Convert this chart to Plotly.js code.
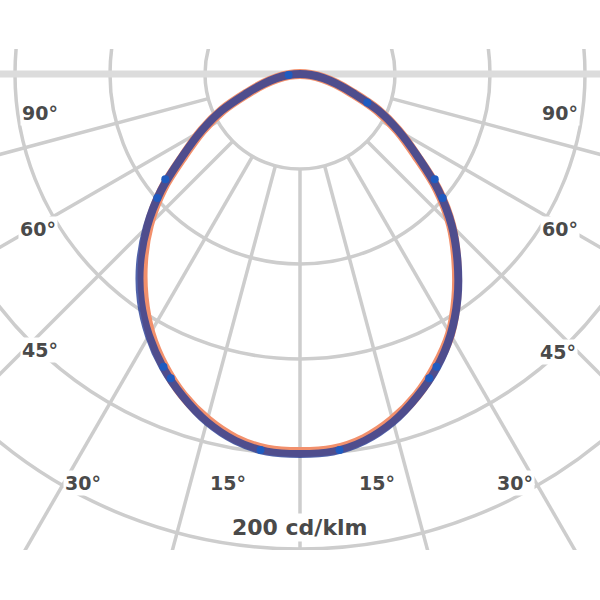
<!DOCTYPE html>
<html><head><meta charset="utf-8">
<script src="https://cdn.plot.ly/plotly-3.0.1.min.js"></script>
<style>html,body{margin:0;padding:0;background:#fff}#chart{width:600px;height:600px}</style>
</head><body><div id="chart"></div>
<script>
// ---- data (luminous intensity, cd/klm, vs. gamma angle from nadir) ----
const gamma = [0,5,10,15,20,25,30,35,40,45,50,55,60,65,70,75,80,85,90];
const c90  = [400,399,392,379,361,341,317,289,258,226,190,151,120,91,60,40,25,12,0];   // blue, right half
const c270 = [400,399,392,379,361,341,318,292,262,228,191,151,120,91,60,40,25,12,0];   // blue, left half
const c0   = [398,397,390,377,360,339,316,287,256,225,189,149,119,90,59,39,24,11,0];   // orange, right half
const c180 = [398,397,390,377,360,339,315,287,257,225,189,149,119,90,59,39,24,11,0];   // orange, left half
const markGamma = [-85,-52,-49,-25,-23,-6,6,23,25,49,52,67];
const markI     = [12,180,199,340,348,398,398,348,340,199,180,77];
const ringValues  = [100,200,300,400,500,600];
const spokeAngles = [-75,-60,-45,-30,-15,0,15,30,45,60,75];
const angleLabels = ['90°','60°','45°','30°','15°'];
const unitLabel = '200 cd/klm';

// ---- geometry / layout constants ----
const S = 0.95, CX = 300, CY = 74, TOP = 49, BOTTOM = 550, W = 600, H = 600;
const rad = d => d * Math.PI / 180;
const px2x = p => (p - CX) / S, py2y = p => (CY - p) / S;

function curve(left, right) {
  const x = [], y = [];
  for (let i = gamma.length - 1; i >= 0; i--) { x.push(-left[i] * Math.sin(rad(gamma[i]))); y.push(-left[i] * Math.cos(rad(gamma[i]))); }
  for (let i = 1; i < gamma.length; i++) { x.push(right[i] * Math.sin(rad(gamma[i]))); y.push(-right[i] * Math.cos(rad(gamma[i]))); }
  return {x, y};
}
const orange = curve(c180, c0), blue = curve(c270, c90);
const mx = markGamma.map((g, i) => markI[i] * Math.sin(rad(g)));
const my = markGamma.map((g, i) => -markI[i] * Math.cos(rad(g)));

const traces = [
  {type:'scatter', mode:'lines', x:orange.x, y:orange.y, line:{color:'#f2906c', width:10, shape:'spline', smoothing:1}, hoverinfo:'skip', showlegend:false},
  {type:'scatter', mode:'lines', x:blue.x, y:blue.y, line:{color:'rgba(38,60,150,0.8)', width:8, shape:'spline', smoothing:1}, hoverinfo:'skip', showlegend:false},
  {type:'scatter', mode:'markers', x:mx, y:my, marker:{color:'#1f5bc0', size:8}, hoverinfo:'skip', showlegend:false}
];

const grid = '#cdcdcd';
const shapes = [];
ringValues.forEach(r => shapes.push({type:'circle', xref:'x', yref:'y', x0:-r, x1:r, y0:-r, y1:r, line:{color:grid, width:3.5}, layer:'below'}));
const rIn = ringValues[0], rOut = ringValues[ringValues.length - 1] + 150;
spokeAngles.forEach(a => shapes.push({type:'line', xref:'x', yref:'y',
  x0: rIn * Math.sin(rad(a)), y0: -rIn * Math.cos(rad(a)), x1: rOut * Math.sin(rad(a)), y1: -rOut * Math.cos(rad(a)),
  line:{color:grid, width:3.5}, layer:'below'}));
shapes.push({type:'line', xref:'x', yref:'y', x0:-rOut, x1:rOut, y0:0, y1:0, line:{color:'#dcdcdc', width:7}, layer:'below'});

const labelFont = {family:'DejaVu Sans', size:19, color:'#4a4a4a', weight:'bold'};
const leftPos  = [[40,113],[38,229],[40,350],[83,483],[228,483]];
const rightPos = [[560,113],[560,229],[558,352],[515,483],[377,483]];
const annotations = [];
angleLabels.forEach((t, i) => {
  [leftPos[i], rightPos[i]].forEach(p => annotations.push({x:px2x(p[0]), y:py2y(p[1]), xref:'x', yref:'y', text:t, showarrow:false,
    xanchor:'center', yanchor:'middle', bgcolor:'#ffffff', borderpad:1, font:labelFont}));
});
annotations.push({x:px2x(300), y:py2y(527), xref:'x', yref:'y', text:unitLabel, showarrow:false, xanchor:'center', yanchor:'middle',
  bgcolor:'#ffffff', borderpad:1, font:{family:'DejaVu Sans', size:22, color:'#4a4a4a', weight:'bold'}});

const axisBase = {showgrid:false, zeroline:false, showticklabels:false, showline:false, ticks:'', fixedrange:true};
const layout = {
  width:W, height:H, paper_bgcolor:'#fff', plot_bgcolor:'#fff',
  margin:{l:0, r:0, t:TOP, b:H - BOTTOM, pad:0},
  xaxis:Object.assign({range:[px2x(0), px2x(W)]}, axisBase),
  yaxis:Object.assign({range:[py2y(BOTTOM), py2y(TOP)]}, axisBase),
  shapes, annotations, showlegend:false
};
Plotly.newPlot('chart', traces, layout, {staticPlot:true, displayModeBar:false});
</script></body></html>
